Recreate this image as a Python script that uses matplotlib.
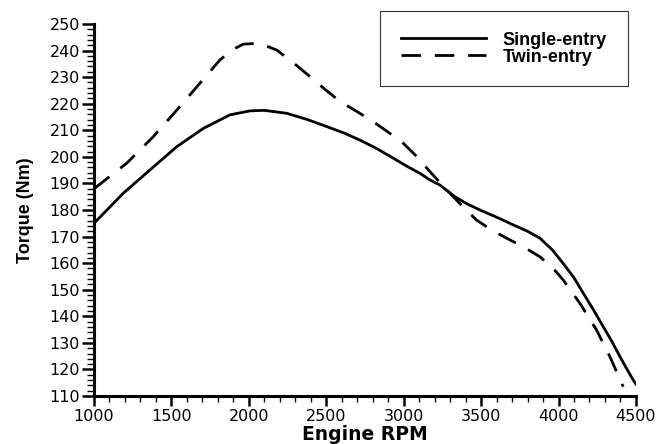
import matplotlib
matplotlib.use('Agg')
import matplotlib.pyplot as plt
from matplotlib.ticker import MultipleLocator

plt.rcParams['font.family'] = ['DejaVu Sans']

# single-entry turbine (solid)
rpm_single = [1000, 1189, 1362, 1534, 1706, 1878, 2007, 2100, 2244, 2380, 2503, 2618, 2718, 2830,
              2933, 3020, 3105, 3170, 3234, 3331, 3410, 3493, 3600, 3708, 3800, 3880, 3960, 4030,
              4100, 4160, 4225, 4289, 4345, 4397, 4440, 4483, 4500]
torque_single = [175.0, 186.3, 195.1, 203.8, 210.7, 215.8, 217.3, 217.5, 216.4, 214.0, 211.4, 208.9, 206.3, 203.0,
                 199.5, 196.5, 193.8, 191.3, 189.4, 185.0, 182.3, 180.0, 177.3, 174.4, 172.0, 169.4, 165.0, 159.9,
                 154.5, 148.7, 142.5, 136.1, 130.5, 124.8, 120.3, 116.0, 114.5]

# twin-entry turbine (dashed)
rpm_twin = [1000, 1211, 1383, 1555, 1684, 1814, 1900, 1964, 2051, 2100, 2180, 2290, 2395, 2490, 2589,
            2700, 2804, 2900, 2998, 3090, 3170, 3299, 3390, 3471, 3570, 3665, 3780, 3880, 3960, 4030,
            4138, 4246, 4332, 4408, 4418]
torque_twin = [188.0, 197.6, 207.6, 218.9, 227.7, 236.5, 240.5, 242.4, 242.7, 242.0, 240.2, 235.3, 230.2, 225.5, 220.8,
               217.0, 213.2, 209.3, 205.1, 199.8, 194.4, 186.3, 180.8, 176.2, 172.4, 169.4, 165.9, 162.4, 158.4, 153.7,
               144.9, 134.8, 124.8, 114.8, 113.5]

fig = plt.figure(figsize=(6.59, 4.44), dpi=100)
ax = fig.add_axes([0.1426, 0.108, 0.8224, 0.838])

ax.plot(rpm_single, torque_single, color='black', lw=2.0, label='Single-entry')
ax.plot(rpm_twin, torque_twin, color='black', lw=2.0, dashes=(7, 5), label='Twin-entry')

ax.set_xlim(1000, 4500)
ax.set_ylim(110, 250)
ax.xaxis.set_major_locator(MultipleLocator(500))
ax.xaxis.set_minor_locator(MultipleLocator(100))
ax.yaxis.set_major_locator(MultipleLocator(10))
ax.yaxis.set_minor_locator(MultipleLocator(2))

for s in ['top', 'right']:
    ax.spines[s].set_visible(False)
for s in ['left', 'bottom']:
    ax.spines[s].set_linewidth(2.2)

ax.tick_params(axis='y', which='major', length=9, width=1.8, labelsize=11.5, pad=1)
ax.tick_params(axis='y', which='minor', length=5, width=1.0)
ax.tick_params(axis='x', which='major', length=7, width=1.8, labelsize=11.5, pad=2)
ax.tick_params(axis='x', which='minor', length=4, width=1.0)

ax.set_xlabel('Engine RPM', fontsize=13.5, fontweight='bold', labelpad=1)
ax.set_ylabel('Torque (Nm)', fontsize=13, fontweight='bold', labelpad=11,
              family='Liberation Sans')

leg = ax.legend(loc='upper right', bbox_to_anchor=(0.985, 1.035),
                prop={'family': 'Liberation Sans', 'weight': 'bold', 'size': 13},
                frameon=True, fancybox=False, edgecolor='black', handlelength=4.7,
                borderpad=1.15, labelspacing=0.0, handletextpad=0.95, borderaxespad=0)
leg.get_frame().set_linewidth(0.8)

fig.savefig('out.png', dpi=100)
